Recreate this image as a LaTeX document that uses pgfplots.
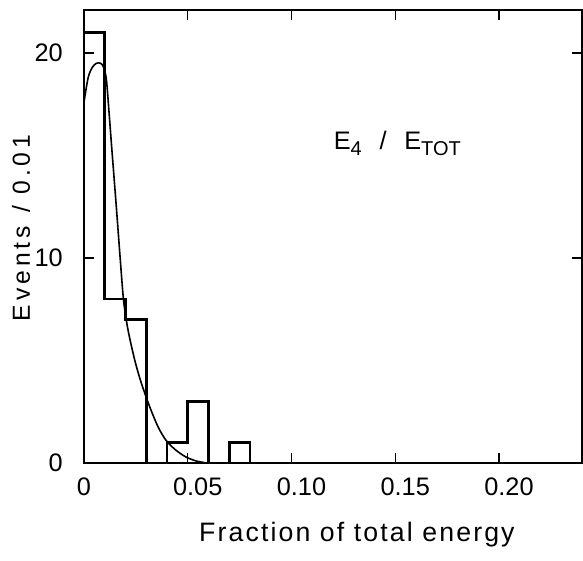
\documentclass[border=0pt]{standalone}
\usepackage{fontspec}
\setmainfont{Liberation Sans}
\newfontfamily\ylfont[LetterSpace=16]{Liberation Sans}
\newfontfamily\xlfont[LetterSpace=8]{Liberation Sans}
\usepackage{pgfplots}
\pgfplotsset{compat=1.18}
\begin{document}
\begin{tikzpicture}
\begin{axis}[
  scale only axis, width=373.5pt, height=339.75pt,
  xmin=0, xmax=0.24, ymin=0, ymax=22.1,
  axis line style={line width=1.1pt},
  tick align=inside, major tick length=7.5pt,
  tick style={line width=1.1pt, black},
  xtick pos=both, ytick pos=both,
  xtick={0.05,0.1,0.15,0.2},
  xticklabels={0.05,0.10,0.15,0.20},
  extra x ticks={0}, extra x tick labels={0},
  extra x tick style={xticklabel style={xshift=-7.5pt}},
  ytick={0,10,20}, yticklabels={0,10,20},
  xticklabel style={font=\fontsize{19}{19}\selectfont, anchor=north, inner sep=0pt, yshift=-11.25pt, xshift=7.5pt},
  yticklabel style={font=\fontsize{19}{19}\selectfont, anchor=east, inner sep=0pt, xshift=-15.75pt},
  xlabel={\xlfont Fraction of total energy},
  xlabel style={at={(axis description cs:0.548,-0.130)}, anchor=north, inner sep=0pt, font=\fontsize{20}{20}\selectfont},
  ylabel={\ylfont Events\hspace{0.55em}/\hspace{0.45em}0.01},
  ylabel style={at={(axis description cs:-0.1265,0.519)}, anchor=center, inner sep=0pt, font=\fontsize{18.5}{18.5}\selectfont},
]
\addplot[const plot mark left, line width=2.2pt, black, line join=miter] coordinates {
  (0,0) (0,21) (0.01,8) (0.02,7) (0.03,0) (0.04,1) (0.05,3) (0.06,0) (0.07,1) (0.08,0)
};
\addplot[smooth, line width=1.2pt, black] coordinates {
  (0,17.6) (0.002,18.8) (0.004,19.3) (0.006,19.5) (0.008,19.5) (0.0095,19.3)
  (0.0108,18.7) (0.012,17.2) (0.0135,15.2) (0.0155,12.6) (0.0175,9.9) (0.019,8.0)
  (0.0205,6.9) (0.022,6.1) (0.0245,5.0) (0.027,4.1) (0.030,3.2) (0.033,2.4)
  (0.036,1.7) (0.0396,1.1) (0.044,0.65) (0.049,0.3) (0.054,0.1) (0.058,0.02)
};
\node[font=\fontsize{19}{19}\selectfont] at (axis cs:0.151,15.6)
  {E\raisebox{-0.45ex}{\fontsize{15}{15}\selectfont 4}\hspace{0.7em}/\hspace{0.7em}E\raisebox{-0.45ex}{\fontsize{15}{15}\selectfont TOT}};
\end{axis}
\path ([shift={(-63pt,-72.75pt)}]current axis.south west) rectangle ([shift={(0.75pt,7.5pt)}]current axis.north east);
\end{tikzpicture}
\end{document}
